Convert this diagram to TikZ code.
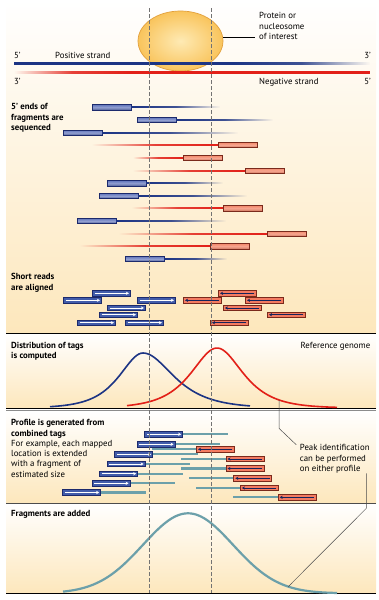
\documentclass[tikz,border=0pt]{standalone}
\usepackage{fontspec}
\setmainfont{PT Sans}
\usepackage{tikz}
\usetikzlibrary{arrows.meta,shapes.geometric,fadings,calc}
\definecolor{cream}{RGB}{253,231,188}
\definecolor{strandblue}{RGB}{28,52,132}
\definecolor{strandred}{RGB}{226,32,24}
\definecolor{boxblue}{RGB}{98,118,188}
\definecolor{boxblueedge}{RGB}{28,42,108}
\definecolor{boxred}{RGB}{243,137,108}
\definecolor{boxrededge}{RGB}{122,42,28}
\definecolor{readblue}{RGB}{66,92,170}
\definecolor{tagteal}{RGB}{108,160,170}
\definecolor{ovalfill}{RGB}{249,196,92}
\definecolor{ovalcore}{RGB}{254,234,180}
\definecolor{ovaledge}{RGB}{226,160,60}

\tikzfading[name=fade out east, left color=transparent!0,
            right color=transparent!100, middle color=transparent!15]
\tikzfading[name=fade out west, left color=transparent!100,
            right color=transparent!0, middle color=transparent!15]

\begin{document}
\begin{tikzpicture}[x=1pt, y=-1pt,
  every node/.style={font=\fontsize{8.8}{10.3}\selectfont, inner sep=0pt},
  title/.style={font=\fontsize{8.8}{10.3}\selectfont\bfseries, align=left,
                anchor=north west},
  note/.style={align=left, anchor=north west},
  panel/.style={top color=white, bottom color=cream},
  rule/.style={black, line width=1.2pt},
  guide/.style={black!55, line width=0.7pt, dash pattern=on 3.5pt off 2.5pt},
  posbox/.style={draw=boxblueedge, line width=0.6pt, top color=boxblue,
                 bottom color=boxblue!80!black, middle color=boxblue!70!white,
                 minimum width=38.5pt, minimum height=5.4pt, anchor=west},
  negbox/.style={draw=boxrededge, line width=0.6pt, top color=boxred,
                 bottom color=boxred!85!black, middle color=boxred!75!white,
                 minimum width=38.5pt, minimum height=5.4pt, anchor=west},
  posread/.style={draw=boxblueedge, line width=0.9pt, fill=readblue,
                  minimum width=38pt, minimum height=5.4pt, anchor=west},
  negread/.style={draw=boxrededge, line width=0.9pt, fill=boxred!90!red,
                  minimum width=38pt, minimum height=5.4pt, anchor=west},
  readarrow/.style={-{Stealth[length=3pt, width=3.2pt]}, line width=0.9pt},
  tagline/.style={tagteal, line width=2.3pt},
  leader/.style={black!70, line width=0.5pt},
]
\useasboundingbox (0,0) rectangle (378,600);

%% ── Panels ───────────────────────────────────────────────────────────────
\shade[panel] (6,0) rectangle (376,333.3);
\shade[panel] (6,333.3) rectangle (376,408);
\shade[panel] (6,410.3) rectangle (376,503);
\shade[panel] (6,503) rectangle (376,593.3);
\draw[rule] (6,333.3) -- (376,333.3);
\draw[black, line width=1pt] (6,408) -- (376,408);
\draw[black!45, line width=0.9pt] (6,410.3) -- (376,410.3);
\draw[black!70, line width=1pt] (6,503) -- (376,503);
\draw[rule] (6,593.3) -- (376,593.3);

%% ── Protein on the two strands ───────────────────────────────────────────
\node[ellipse, draw=ovaledge, line width=0.7pt, inner color=ovalcore,
      outer color=ovalfill, minimum width=85pt, minimum height=60pt]
  (prot) at (180.5,41) {};
\fill[strandblue] (14,62) rectangle (232.5,65);
\fill[strandblue, path fading=fade out east] (232,62) rectangle (370,65);
\fill[strandred, path fading=fade out west] (14,70.8) rectangle (130.5,73.8);
\fill[strandred] (130,70.8) rectangle (370,73.8);

\node[note] (p5) at (14,51.6) {5’};
\node[note] (plab) at (55,51.6) {Positive strand};
\node[anchor=north east] (p3) at (371,51.6) {3’};
\node[note] (n3) at (14,77.6) {3’};
\node[note] (nlab) at (259,77.6) {Negative strand};
\node[anchor=north east] (n5) at (371,77.6) {5’};

\node[note] (protlab) at (259,12.3) {Protein or\\nucleosome\\of interest};
\draw[black, line width=0.8pt] ($(prot.east)+(0,-4)$)
  -- ($(prot.east -| protlab.west)+(-4,-4)$);

%% ── Sequenced fragments ──────────────────────────────────────────────────
\node[title] (seqlab) at (11,103.3) {5’ ends of\\fragments are\\sequenced};
\foreach \n/\x/\y/\xe in {1/92/107.3/220, 2/137/120/273, 3/63/132.7/238,
    4/107/183.3/223, 5/99/196/247, 6/77/221/226, 7/125/259/227} {
  \node[posbox] (pf\n) at (\x,\y) {};
  \fill[strandblue, path fading=fade out east]
    ([yshift=1.1pt]pf\n.east) rectangle (\xe,\y+1.1);
}
\foreach \n/\xs/\x/\y in {1/92/218/145, 2/133/183/158, 3/133/245/170.7,
    4/132/223/208.3, 5/119/267/233.7, 6/80/210/246.3} {
  \node[negbox] (nf\n) at (\x,\y) {};
  \fill[strandred, path fading=fade out west]
    (\xs,\y-1.1) rectangle ([yshift=-1.1pt]nf\n.west);
}

%% ── Aligned short reads ──────────────────────────────────────────────────
\node[title] (alignlab) at (11,273.3) {Short reads\\are aligned};
\foreach \x/\y [count=\n] in {92/293.3, 63/300.3, 137/300.3, 107/308,
    99/314.7, 77/322.7, 125/322.7} {
  \node[posread] (pr\n) at (\x,\y) {};
  \draw[readarrow, white] ([xshift=2.5pt]pr\n.west) -- ([xshift=-2pt]pr\n.east);
}
\foreach \x/\y [count=\n] in {218/293.3, 183/300.3, 245/300.3, 223/308,
    267/314.7, 210/322.7} {
  \node[negread] (nr\n) at (\x,\y) {};
  \draw[readarrow, strandblue!70!black]
    ([xshift=-2.5pt]nr\n.east) -- ([xshift=2pt]nr\n.west);
}

%% ── Distribution of tags ─────────────────────────────────────────────────
\node[title] (distlab) at (11,341.6) {Distribution of tags\\is computed};
\node[anchor=north east] (reflab) at (370.5,341.6) {Reference genome};
\draw[strandblue, line width=1.6pt] plot[domain=50:250, samples=100, smooth]
  (\x, {408-55/cosh((\x-143)/(\x<143 ? 21 : 27))});
\draw[strandred, line width=1.6pt] plot[domain=127:337, samples=100, smooth]
  (\x, {408-60/cosh((\x-217)/23)});

%% ── Extended profile ─────────────────────────────────────────────────────
\node[note] (proflab) at (11,419.3)
  {\textbf{Profile is generated from}\\\textbf{combined tags}\\
   For example, each mapped\\location is extended\\with a fragment of\\
   estimated size};
\foreach \x/\y [count=\n] in {144.3/434.3, 136.7/444.3, 114.3/454.3,
    106.7/464, 99.3/473.7, 91.7/483.3, 62.3/492.5} {
  \node[posread] (gp\n) at (\x,\y) {};
  \draw[readarrow, white] ([xshift=2.5pt]gp\n.west) -- ([xshift=-2pt]gp\n.east);
  \draw[tagline] (gp\n.east) -- ++(44.5,0);
}
\foreach \x/\y [count=\n] in {196/449.3, 225.5/459, 225.5/468.5,
    233.3/478.3, 240/488, 277.7/497.3} {
  \node[negread] (gn\n) at (\x,\y) {};
  \draw[readarrow, strandblue!70!black]
    ([xshift=-2.5pt]gn\n.east) -- ([xshift=2pt]gn\n.west);
  \draw[tagline] (gn\n.west) -- ++(-44.5,0);
}

%% ── Summed fragments ─────────────────────────────────────────────────────
\node[title] (sumlab) at (11,510.6) {Fragments are added};
\draw[tagteal, line width=2.2pt] plot[domain=63:337, samples=100, smooth]
  (\x, {593.3-80*exp(-0.5*((\x-188)/45)*((\x-188)/45))});

%% ── Peak identification ─────────────────────────────────────────────────
\node[note] (peak) at (299.7,444.3)
  {Peak identification\\can be performed\\on either profile};
\coordinate (redtail) at (279,399.9);
\coordinate (tealtail) at (288.3,586.6);
\coordinate (kink1) at (279,428.3);
\coordinate (kink2) at (366.3,508.3);
\draw[leader] (redtail) -- (kink1) -- ([xshift=-3.4pt, yshift=-0.5pt]peak.north west);
\draw[leader] (kink2 |- peak.south) -- (kink2) -- (tealtail);

%% ── Guides through the bound site ────────────────────────────────────────
\draw[guide] (149.5,8) -- (149.5,593.3);
\draw[guide] (211,8) -- (211,593.3);

\end{tikzpicture}
\end{document}
